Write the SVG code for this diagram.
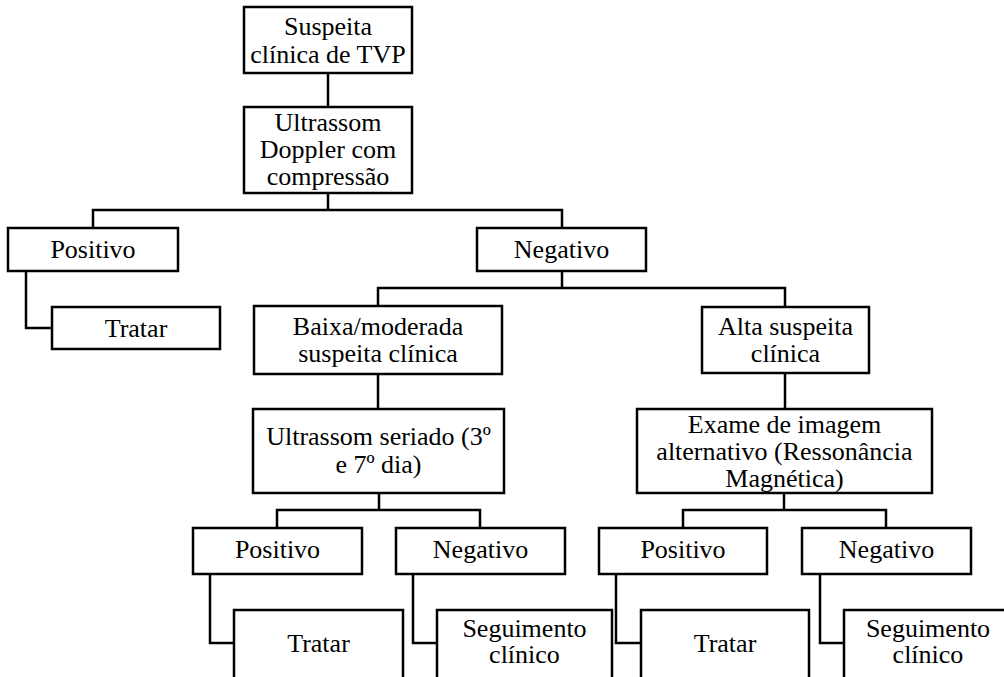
<svg xmlns="http://www.w3.org/2000/svg" width="1004" height="677" viewBox="0 0 1004 677">
<style>
rect{fill:#fff;stroke:#000;stroke-width:2.5}
text{font-family:'Liberation Serif','DejaVu Serif',serif;font-size:26px;fill:#000;text-anchor:middle}
#connectors path{fill:none;stroke:#000;stroke-width:2.5}
</style>
<rect x="0" y="0" width="1004" height="677" style="stroke:none"/>
<g id="connectors">
<path d="M328,73V107"/>
<path d="M328,193V210M93,228V210H562V228"/>
<path d="M26,271V328H52"/>
<path d="M562,271V288M378,306V288H785V307"/>
<path d="M378,374V409"/>
<path d="M785,373V409"/>
<path d="M379,493V510M277,528V510H480V528"/>
<path d="M784,493V510M683,528V510H886V528"/>
<path d="M210,574V643H234"/>
<path d="M413,574V643H437"/>
<path d="M616,574V643H641"/>
<path d="M820,574V643H844"/>
</g>
<g font-family="'Liberation Serif', 'DejaVu Serif', serif">
<g id="n1"><rect x="244" y="7" width="168" height="66"/><text x="328" y="35">Suspeita</text><text x="328" y="63">clínica de TVP</text></g>
<g id="n2"><rect x="244" y="107" width="168" height="86"/><text x="328" y="131">Ultrassom</text><text x="328" y="158">Doppler com</text><text x="328" y="185">compressão</text></g>
<g id="n3"><rect x="8" y="228" width="170" height="43"/><text x="93" y="258">Positivo</text></g>
<g id="n4"><rect x="477" y="228" width="169" height="43"/><text x="561.5" y="258">Negativo</text></g>
<g id="n5"><rect x="52" y="307" width="168" height="42"/><text x="136" y="337">Tratar</text></g>
<g id="n6"><rect x="254" y="306" width="248" height="68"/><text x="378" y="335">Baixa/moderada</text><text x="378" y="362">suspeita clínica</text></g>
<g id="n7"><rect x="702" y="307" width="167" height="66"/><text x="785.5" y="335">Alta suspeita</text><text x="785.5" y="362">clínica</text></g>
<g id="n8"><rect x="253" y="409" width="251" height="84"/><text x="378.5" y="445">Ultrassom seriado (3º</text><text x="378.5" y="473">e 7º dia)</text></g>
<g id="n9"><rect x="637" y="409" width="295" height="84"/><text x="784.5" y="433">Exame de imagem</text><text x="784.5" y="460">alternativo (Ressonância</text><text x="784.5" y="487">Magnética)</text></g>
<g id="n10"><rect x="193" y="528" width="169" height="46"/><text x="277.5" y="558">Positivo</text></g>
<g id="n11"><rect x="396" y="528" width="169" height="46"/><text x="480.5" y="558">Negativo</text></g>
<g id="n12"><rect x="599" y="528" width="168" height="46"/><text x="683" y="558">Positivo</text></g>
<g id="n13"><rect x="802" y="528" width="169" height="46"/><text x="886.5" y="558">Negativo</text></g>
<g id="n14"><rect x="234" y="610" width="169" height="80"/><text x="318.5" y="652">Tratar</text></g>
<g id="n15"><rect x="437" y="610" width="175" height="80"/><text x="524.5" y="637">Seguimento</text><text x="524.5" y="663">clínico</text></g>
<g id="n16"><rect x="641" y="610" width="168" height="80"/><text x="725" y="652">Tratar</text></g>
<g id="n17"><rect x="844" y="610" width="168" height="80"/><text x="928" y="637">Seguimento</text><text x="928" y="663">clínico</text></g>
</g>
</svg>
